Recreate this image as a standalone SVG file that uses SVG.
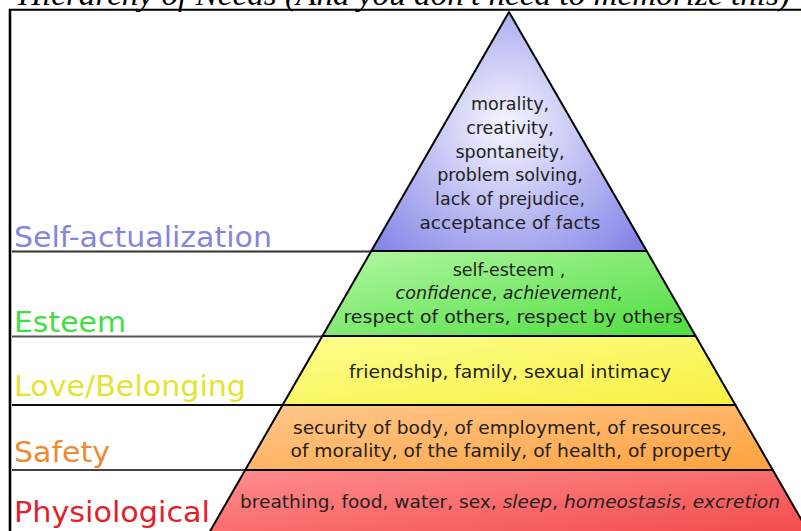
<svg xmlns="http://www.w3.org/2000/svg" width="801" height="531" viewBox="0 0 801 531">
<style>
.lbl{font-family:"DejaVu Sans","Liberation Sans",sans-serif;font-size:28px}
.in{font-family:"DejaVu Sans","Liberation Sans",sans-serif;font-size:17.5px;fill:#222;text-anchor:middle}
.edge{stroke:#000;stroke-width:2;stroke-linejoin:round}
.lead{stroke-width:2.2;fill:none}
</style>
<defs>
<radialGradient id="gBlue" gradientUnits="userSpaceOnUse" cx="505" cy="125" r="190">
<stop offset="0" stop-color="#f6f6ff"/><stop offset="1" stop-color="#7c7ce6"/>
</radialGradient>
<linearGradient id="gGreen" x1="0" y1="0" x2="1" y2="1">
<stop offset="0" stop-color="#b2f8a2"/><stop offset="1" stop-color="#4edc3e"/>
</linearGradient>
<linearGradient id="gYellow" x1="0" y1="0" x2="1" y2="1">
<stop offset="0" stop-color="#ffff8c"/><stop offset="1" stop-color="#f6f044"/>
</linearGradient>
<linearGradient id="gOrange" x1="0" y1="0" x2="1" y2="1">
<stop offset="0" stop-color="#ffc88c"/><stop offset="1" stop-color="#ffa23e"/>
</linearGradient>
<linearGradient id="gRed" x1="0" y1="0" x2="1" y2="1">
<stop offset="0" stop-color="#ff8e8e"/><stop offset="1" stop-color="#f24848"/>
</linearGradient>
</defs>
<rect width="801" height="531" fill="#fff"/>
<g id="title">
<text x="18" y="5" font-family="'Liberation Serif',serif" font-style="italic" font-size="31" textLength="772" lengthAdjust="spacingAndGlyphs" fill="#000">Hierarchy of Needs (And you don't need to memorize this)</text>
</g>
<g id="frame" stroke="#000" fill="none">
<line x1="9" y1="9.7" x2="801" y2="9.7" stroke-width="2"/>
<line x1="10" y1="9" x2="10" y2="531" stroke-width="2.6"/>
</g>
<g id="connectors">
<line class="lead" x1="12" y1="251.5" x2="372" y2="251.5" stroke="#333"/>
<line class="lead" x1="12" y1="336.5" x2="323" y2="336.5" stroke="#555"/>
<line class="lead" x1="12" y1="405" x2="283" y2="405" stroke="#111"/>
<line class="lead" x1="12" y1="470" x2="246" y2="470" stroke="#444"/>
</g>
<g id="self-actualization">
<polygon class="edge" points="509,12 646.7,251 371.3,251" fill="url(#gBlue)"/>
<text class="lbl" x="14" y="247" fill="#8585dc" textLength="258" lengthAdjust="spacingAndGlyphs">Self-actualization</text>
<text class="in" x="510" y="110">morality,</text>
<text class="in" x="510" y="134">creativity,</text>
<text class="in" x="510" y="158">spontaneity,</text>
<text class="in" x="510" y="181">problem solving,</text>
<text class="in" x="510" y="205">lack of prejudice,</text>
<text class="in" x="510" y="229" textLength="181" lengthAdjust="spacingAndGlyphs">acceptance of facts</text>
</g>
<g id="esteem">
<polygon class="edge" points="371.3,251 646.7,251 695.6,336 322.4,336" fill="url(#gGreen)"/>
<text class="lbl" x="14" y="332" fill="#3fe03f" textLength="112" lengthAdjust="spacingAndGlyphs">Esteem</text>
<text class="in" x="509" y="276">self-esteem ,</text>
<text class="in" x="509" y="299"><tspan font-style="italic">confidence</tspan>, <tspan font-style="italic">achievement</tspan>,</text>
<text class="in" x="513" y="323" textLength="339" lengthAdjust="spacingAndGlyphs">respect of others, respect by others</text>
</g>
<g id="love-belonging">
<polygon class="edge" points="322.4,336 695.6,336 735.4,405 282.6,405" fill="url(#gYellow)"/>
<text class="lbl" x="14" y="396" fill="#e4e430" textLength="232" lengthAdjust="spacingAndGlyphs">Love/Belonging</text>
<text class="in" x="510" y="378" textLength="322" lengthAdjust="spacingAndGlyphs">friendship, family, sexual intimacy</text>
</g>
<g id="safety">
<polygon class="edge" points="282.6,405 735.4,405 772.8,470 245.2,470" fill="url(#gOrange)"/>
<text class="lbl" x="14" y="462" fill="#ee8a30" textLength="96" lengthAdjust="spacingAndGlyphs">Safety</text>
<text class="in" x="510" y="434" textLength="434" lengthAdjust="spacingAndGlyphs">security of body, of employment, of resources,</text>
<text class="in" x="511" y="457" textLength="441" lengthAdjust="spacingAndGlyphs">of morality, of the family, of health, of property</text>
</g>
<g id="physiological">
<polygon class="edge" points="245.2,470 772.8,470 813,540 205,540" fill="url(#gRed)"/>
<text class="lbl" x="14" y="522" fill="#e4202a" textLength="196" lengthAdjust="spacingAndGlyphs">Physiological</text>
<text class="in" x="510" y="508" textLength="540" lengthAdjust="spacingAndGlyphs">breathing, food, water, sex, <tspan font-style="italic">sleep</tspan>, <tspan font-style="italic">homeostasis</tspan>, <tspan font-style="italic">excretion</tspan></text>
</g>
</svg>
